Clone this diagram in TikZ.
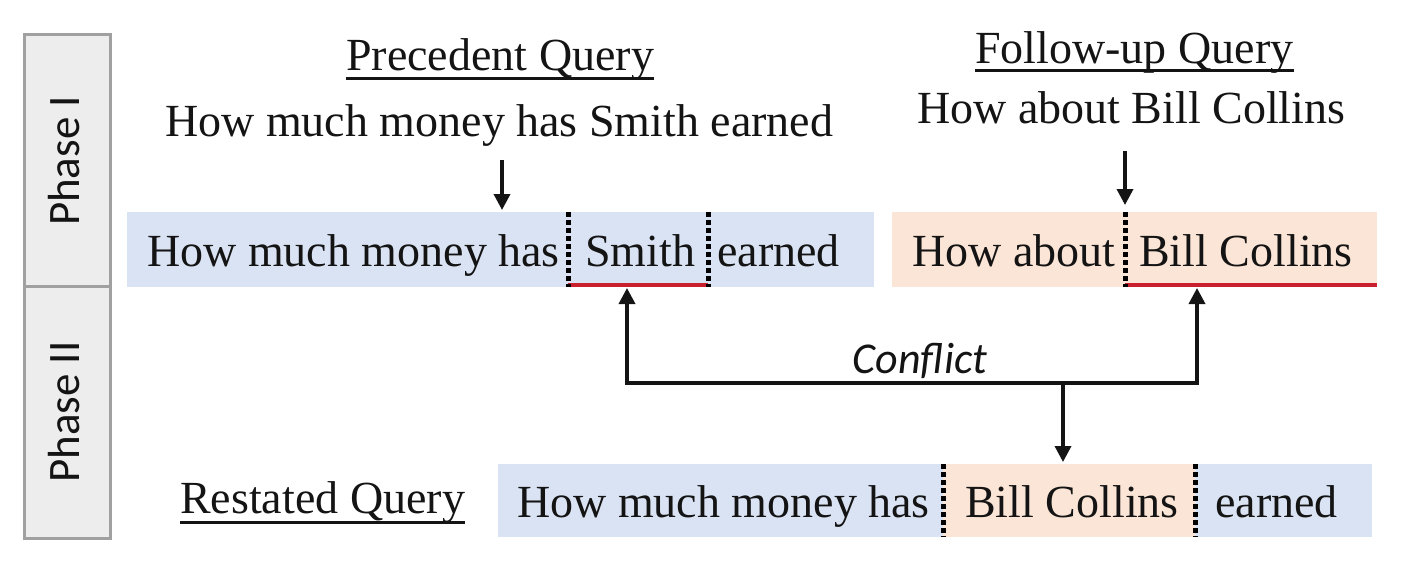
\documentclass[tikz,border=0pt]{standalone}
\usepackage{fontspec}
\setmainfont{Liberation Serif}
\newfontfamily\carlito{Carlito}
\usetikzlibrary{arrows.meta}
\definecolor{qblue}{HTML}{DAE3F3}
\definecolor{qpeach}{HTML}{FBE5D6}
\definecolor{qred}{HTML}{C8202C}
\definecolor{qink}{HTML}{141414}
\definecolor{pfill}{HTML}{EDEDED}
\definecolor{pline}{HTML}{A0A0A0}
\begin{document}
\begin{tikzpicture}[x=1pt,y=-1pt,
  txt/.style={inner sep=0pt, anchor=base west, text=qink, font=\fontsize{46}{50}\selectfont},
  ttl/.style={inner sep=0pt, anchor=base west, text=qink, font=\fontsize{46}{50}\selectfont},
  seg/.style={inner sep=0pt, outer sep=0pt, draw=none, anchor=north west, minimum height=75pt},
  sepline/.style={line width=5pt, dash pattern=on 4.5pt off 3.5pt, black},
  redline/.style={line width=4.5pt, qred},
  uline/.style={line width=3pt, qink},
  arr/.style={line width=3.5pt, qink, -{Triangle[length=16pt,width=16pt]}},
  conn/.style={line width=3.5pt, qink},
  phasebox/.style={draw=pline, fill=pfill, line width=3pt, inner sep=0pt, anchor=north west, minimum width=86pt, minimum height=252pt},
  phasetxt/.style={rotate=90, anchor=base, inner sep=0pt, text=qink, font=\carlito\fontsize{45}{48}\selectfont}
]
\useasboundingbox (0,0) rectangle (1408,566);

% phase column
\node[phasebox] (ph1) at (23,33) {};
\node[phasebox] (ph2) at (23,285) {};
\node[phasetxt] (ph1t) at (79,161) {Phase I};
\node[phasetxt] (ph2t) at (79,412) {Phase II};

% titles
\node[ttl] (pq) at (346,70) {Precedent Query};
\draw[uline] ([yshift=-8pt]pq.base west) -- ([yshift=-8pt]pq.base east);
\node[ttl] (fq) at (975,63) {Follow-up Query};
\draw[uline] ([yshift=-7.5pt]fq.base west) -- ([yshift=-7.5pt]fq.base east);
\node[ttl] (rq) at (180,513) {Restated Query};
\draw[uline] ([yshift=-9pt]rq.base west) -- ([yshift=-9pt]rq.base east);

% raw sentences
\node[txt] (ps) at (165,136) {How much money has Smith earned};
\node[txt] (fs) at (917,123) {How about Bill Collins};

% precedent segmented box
\node[seg, fill=qblue, minimum width=441pt] (p1) at (127,212) {};
\node[seg, fill=qblue, minimum width=140pt] (p2) at (568,212) {};
\node[seg, fill=qblue, minimum width=166pt] (p3) at (708,212) {};
\node[txt] (p1t) at (147,266) {How much money has};
\node[txt] (p2t) at (585,266) {Smith};
\node[txt] (p3t) at (717,266) {earned};
\draw[redline] ([yshift=2pt]p2.south west) -- ([yshift=2pt]p2.south east);
\draw[sepline] (p1.north east) -- (p1.south east);
\draw[sepline] (p2.north east) -- (p2.south east);

% follow-up segmented box
\node[seg, fill=qpeach, minimum width=233pt] (f1) at (892,212) {};
\node[seg, fill=qpeach, minimum width=252pt] (f2) at (1125,212) {};
\node[txt] (f1t) at (912,266) {How about};
\node[txt] (f2t) at (1139,266) {Bill Collins};
\draw[redline] ([yshift=2pt]f2.south west) -- ([yshift=2pt]f2.south east);
\draw[sepline] (f1.north east) -- (f1.south east);

% restated segmented box
\node[seg, fill=qblue, minimum width=445pt, minimum height=73pt] (r1) at (498,464) {};
\node[seg, fill=qpeach, minimum width=252pt, minimum height=73pt] (r2) at (943,464) {};
\node[seg, fill=qblue, minimum width=177pt, minimum height=73pt] (r3) at (1195,464) {};
\node[txt] (r1t) at (517,517) {How much money has};
\node[txt] (r2t) at (965,517) {Bill Collins};
\node[txt] (r3t) at (1215,517) {earned};
\draw[sepline] (r1.north east) -- (r1.south east);
\draw[sepline] (r2.north east) -- (r2.south east);

% arrows into phase I boxes
\coordinate (a1s) at (502,160);
\coordinate (a2s) at (1125,151);
\draw[arr, shorten >=2pt] (a1s) -- (a1s |- p1.north);
\draw[arr, shorten >=7pt] (a2s) -- (a2s |- f2.north);

% conflict connector
\coordinate (cL) at (627,383);
\coordinate (cR) at (1197,383);
\coordinate (cM) at (1063,383);
\draw[arr, shorten >=1pt] (cL) -- (cL |- p2.south);
\draw[arr, shorten >=1pt] (cR) -- (cR |- f2.south);
\draw[conn, line cap=rect] (cL) -- (cR);
\draw[arr, shorten >=2pt] (cM) -- (cM |- r2.north);
\node[inner sep=0pt, anchor=base, text=qink, font=\carlito\itshape\fontsize{44}{48}\selectfont] (cf) at (920,373) {Conflict};
\end{tikzpicture}
\end{document}
